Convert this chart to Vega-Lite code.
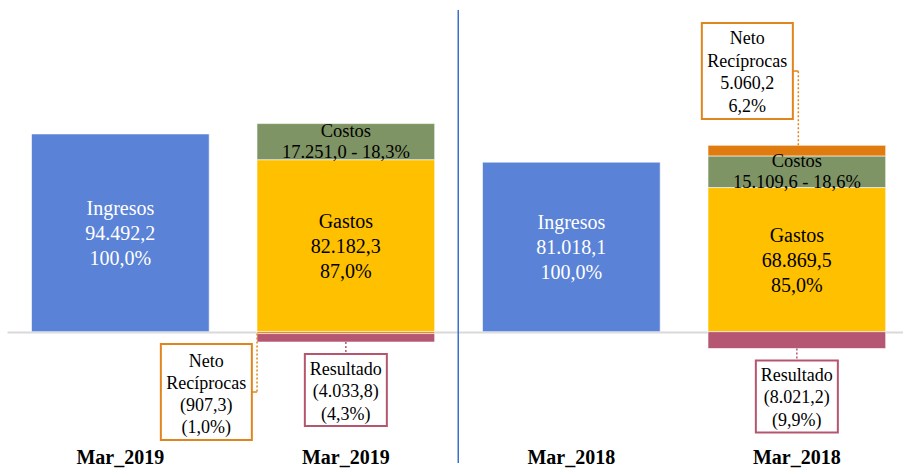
{
  "$schema": "https://vega.github.io/schema/vega-lite/v6.json",
  "autosize": {"type": "none"},
  "padding": {"left": 7, "top": 10, "right": 0, "bottom": 28},
  "width": 896,
  "height": 430,
  "background": "white",
  "config": {
    "view": {"stroke": null},
    "locale": {"number": {"decimal": ",", "thousands": ".", "grouping": [3], "currency": ["", ""], "minus": "-"}},
    "font": "Liberation Serif, Times New Roman, serif",
    "text": {"font": "Liberation Serif, Times New Roman, serif"},
    "axis": {"labelFont": "Liberation Serif, Times New Roman, serif"}
  },
  "data": {
    "values": [
      {"col": "Mar_2019|Ingresos", "serie": "Ingresos", "valor": 94492.2, "pct": 1.0},
      {"col": "Mar_2019|Composición", "serie": "Gastos", "valor": 82182.3, "pct": 0.870},
      {"col": "Mar_2019|Composición", "serie": "Costos", "valor": 17251.0, "pct": 0.183},
      {"col": "Mar_2019|Composición", "serie": "Neto Recíprocas", "valor": -907.3, "pct": -0.010},
      {"col": "Mar_2019|Composición", "serie": "Resultado", "valor": -4033.8, "pct": -0.043},
      {"col": "Mar_2018|Ingresos", "serie": "Ingresos", "valor": 81018.1, "pct": 1.0},
      {"col": "Mar_2018|Composición", "serie": "Gastos", "valor": 68869.5, "pct": 0.850},
      {"col": "Mar_2018|Composición", "serie": "Costos", "valor": 15109.6, "pct": 0.186},
      {"col": "Mar_2018|Composición", "serie": "Neto Recíprocas", "valor": 5060.2, "pct": 0.062},
      {"col": "Mar_2018|Composición", "serie": "Resultado", "valor": -8021.2, "pct": -0.099}
    ]
  },
  "transform": [
    {"stack": "valor", "groupby": ["col"], "sort": [{"field": "valor", "order": "descending"}], "as": ["y0", "y1"]}
  ],
  "layer": [
    {
      "mark": {"type": "bar", "stroke": "#ffffff", "strokeWidth": 1, "strokeOpacity": 0.6},
      "encoding": {
        "x": {"field": "col", "type": "nominal", "title": null, "scale": {"domain": ["Mar_2019|Ingresos", "Mar_2019|Composición", "Mar_2018|Ingresos", "Mar_2018|Composición"], "paddingInner": 0.212, "paddingOuter": 0.0927, "align": 0.586},
              "axis": {"title": null, "labelExpr": "split(datum.value, '|')[0]", "labelFont": "Liberation Serif, Times New Roman, serif", "labelFontSize": 20, "labelFontWeight": "bold", "labelColor": "#000000", "labelAngle": 0, "ticks": false, "domain": false, "labelPadding": 7, "grid": false}},
        "y": {"field": "y1", "type": "quantitative", "title": null, "scale": {"domain": [-51740, 153700], "nice": false, "zero": false},
              "axis": {"title": null, "values": [0], "grid": true, "gridColor": "#D9D9D9", "gridWidth": 2, "labels": false, "ticks": false, "domain": false}},
        "y2": {"field": "y0"},
        "color": {"field": "serie", "type": "nominal", "legend": null,
                  "scale": {"domain": ["Ingresos", "Gastos", "Costos", "Neto Recíprocas", "Resultado"], "range": ["#5A82D6", "#FFC000", "#7F9464", "#E07B10", "#B55672"]}}
      }
    },
    {
      "transform": [
        {"filter": {"field": "serie", "oneOf": ["Ingresos", "Gastos"]}},
        {"fold": ["y0", "y1"], "as": ["borde", "pos"]},
        {"aggregate": [{"op": "mean", "field": "pos", "as": "centro"}], "groupby": ["col", "serie", "valor", "pct"]}
      ],
      "mark": {"type": "text", "font": "Liberation Serif, Times New Roman, serif", "fontSize": 20, "lineHeight": 25, "baseline": "middle", "align": "center", "yOffset": -24,
               "text": {"expr": "[datum.serie, format(datum.valor, ',.1f'), format(datum.pct, '.1%')]"}},
      "encoding": {
        "x": {"field": "col", "type": "nominal", "title": null},
        "y": {"field": "centro", "type": "quantitative", "title": null},
        "color": {"condition": {"test": "datum.serie == 'Ingresos'", "value": "#ffffff"}, "value": "#000000"}
      }
    },
    {
      "transform": [
        {"filter": {"field": "serie", "equal": "Costos"}},
        {"fold": ["y0", "y1"], "as": ["borde", "pos"]},
        {"aggregate": [{"op": "mean", "field": "pos", "as": "centro"}], "groupby": ["col", "serie", "valor", "pct"]}
      ],
      "mark": {"type": "text", "font": "Liberation Serif, Times New Roman, serif", "fontSize": 18.5, "lineHeight": 20.5, "baseline": "middle", "align": "center", "color": "#000000", "yOffset": -10.5,
               "text": {"expr": "[datum.serie, format(datum.valor, ',.1f') + ' - ' + format(datum.pct, '.1%')]"}},
      "encoding": {
        "x": {"field": "col", "type": "nominal", "title": null},
        "y": {"field": "centro", "type": "quantitative", "title": null}
      }
    },
    {
      "transform": [{"filter": {"field": "serie", "equal": "Resultado"}}],
      "mark": {"type": "rule", "color": "#B5566F", "strokeWidth": 1.5, "strokeDash": [2, 2], "y2Offset": 12},
      "encoding": {
        "x": {"field": "col", "type": "nominal", "title": null},
        "y": {"field": "y1", "type": "quantitative", "title": null},
        "y2": {"field": "y1"}
      }
    },
    {
      "transform": [{"filter": {"field": "serie", "equal": "Resultado"}}],
      "mark": {"type": "point", "shape": "M-1,-0.878H1V0.878H-1Z", "size": 6724, "fill": "#ffffff", "stroke": "#B5566F", "strokeWidth": 2, "opacity": 1, "fillOpacity": 1, "yOffset": 48},
      "encoding": {
        "x": {"field": "col", "type": "nominal", "title": null},
        "y": {"field": "y1", "type": "quantitative", "title": null}
      }
    },
    {
      "transform": [{"filter": {"field": "serie", "equal": "Resultado"}}],
      "mark": {"type": "text", "font": "Liberation Serif, Times New Roman, serif", "fontSize": 18, "lineHeight": 22.5, "baseline": "middle", "align": "center", "color": "#000000", "yOffset": 27.5,
               "text": {"expr": "[datum.serie, format(datum.valor, '(,.1f'), format(datum.pct, '(.1%')]"}},
      "encoding": {
        "x": {"field": "col", "type": "nominal", "title": null},
        "y": {"field": "y1", "type": "quantitative", "title": null}
      }
    },
    {
      "transform": [{"filter": "datum.serie == 'Neto Recíprocas' && datum.valor < 0"}],
      "mark": {"type": "rule", "color": "#E0851E", "strokeWidth": 1.5, "strokeDash": [2, 2], "xOffset": -88.8, "y2Offset": 58.4},
      "encoding": {
        "x": {"field": "col", "type": "nominal", "title": null},
        "y": {"field": "y1", "type": "quantitative", "title": null},
        "y2": {"field": "y1"}
      }
    },
    {
      "transform": [{"filter": "datum.serie == 'Neto Recíprocas' && datum.valor < 0"}],
      "mark": {"type": "tick", "orient": "horizontal", "size": 5, "thickness": 1.5, "color": "#E0851E", "opacity": 1, "xOffset": -91.3, "yOffset": 58.4},
      "encoding": {
        "x": {"field": "col", "type": "nominal", "title": null},
        "y": {"field": "y1", "type": "quantitative", "title": null}
      }
    },
    {
      "transform": [{"filter": "datum.serie == 'Neto Recíprocas' && datum.valor < 0"}],
      "mark": {"type": "point", "shape": "M-0.948,-1H0.948V1H-0.948Z", "size": 9216, "fill": "#ffffff", "stroke": "#E0851E", "strokeWidth": 2, "opacity": 1, "fillOpacity": 1, "xOffset": -139.5, "yOffset": 58.4},
      "encoding": {
        "x": {"field": "col", "type": "nominal", "title": null},
        "y": {"field": "y1", "type": "quantitative", "title": null}
      }
    },
    {
      "transform": [{"filter": "datum.serie == 'Neto Recíprocas' && datum.valor < 0"}],
      "mark": {"type": "text", "font": "Liberation Serif, Times New Roman, serif", "fontSize": 18, "lineHeight": 22, "baseline": "middle", "align": "center", "color": "#000000", "xOffset": -139.5, "yOffset": 28,
               "text": {"expr": "[split(datum.serie, ' ')[0], split(datum.serie, ' ')[1], format(datum.valor, '(,.1f'), format(datum.pct, '(.1%')]"}},
      "encoding": {
        "x": {"field": "col", "type": "nominal", "title": null},
        "y": {"field": "y1", "type": "quantitative", "title": null}
      }
    },
    {
      "transform": [{"filter": "datum.serie == 'Neto Recíprocas' && datum.valor > 0"}],
      "mark": {"type": "rule", "color": "#E0851E", "strokeWidth": 1.5, "strokeDash": [2, 2], "xOffset": 1.5, "y2Offset": -74.3},
      "encoding": {
        "x": {"field": "col", "type": "nominal", "title": null},
        "y": {"field": "y1", "type": "quantitative", "title": null},
        "y2": {"field": "y1"}
      }
    },
    {
      "transform": [{"filter": "datum.serie == 'Neto Recíprocas' && datum.valor > 0"}],
      "mark": {"type": "tick", "orient": "horizontal", "size": 6, "thickness": 1.5, "color": "#E0851E", "opacity": 1, "xOffset": -1.5, "yOffset": -74.3},
      "encoding": {
        "x": {"field": "col", "type": "nominal", "title": null},
        "y": {"field": "y1", "type": "quantitative", "title": null}
      }
    },
    {
      "transform": [{"filter": "datum.serie == 'Neto Recíprocas' && datum.valor > 0"}],
      "mark": {"type": "point", "shape": "M-0.948,-1H0.948V1H-0.948Z", "size": 9216, "fill": "#ffffff", "stroke": "#E0851E", "strokeWidth": 2, "opacity": 1, "fillOpacity": 1, "xOffset": -49.5, "yOffset": -74.3},
      "encoding": {
        "x": {"field": "col", "type": "nominal", "title": null},
        "y": {"field": "y1", "type": "quantitative", "title": null}
      }
    },
    {
      "transform": [{"filter": "datum.serie == 'Neto Recíprocas' && datum.valor > 0"}],
      "mark": {"type": "text", "font": "Liberation Serif, Times New Roman, serif", "fontSize": 18, "lineHeight": 22.5, "baseline": "middle", "align": "center", "color": "#000000", "xOffset": -49.5, "yOffset": -106,
               "text": {"expr": "[split(datum.serie, ' ')[0], split(datum.serie, ' ')[1], format(datum.valor, '(,.1f'), format(datum.pct, '(.1%')]"}},
      "encoding": {
        "x": {"field": "col", "type": "nominal", "title": null},
        "y": {"field": "y1", "type": "quantitative", "title": null}
      }
    },
    {
      "transform": [{"filter": {"field": "col", "equal": "Mar_2018|Ingresos"}}],
      "mark": {"type": "rule", "color": "#3A6FD0", "strokeWidth": 1.5, "xOffset": -113.1},
      "encoding": {
        "x": {"field": "col", "type": "nominal", "title": null},
        "y": {"datum": 153700, "type": "quantitative", "title": null},
        "y2": {"datum": -62730}
      }
    }
  ]
}
